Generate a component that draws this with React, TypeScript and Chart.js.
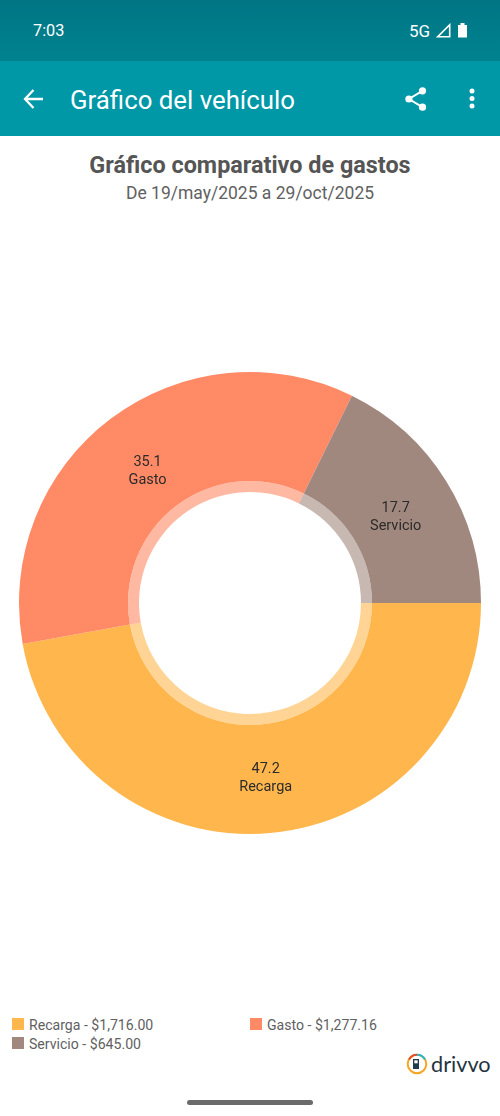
import React, { useEffect, useRef } from "react";
import { Chart, registerables } from "chart.js";

Chart.register(...registerables);

const categories = ["Recarga", "Gasto", "Servicio"];
const amounts = [1716.0, 1277.16, 645.0];
const amountLabels = ["$1,716.00", "$1,277.16", "$645.00"];
const percentLabels = ["47.2", "35.1", "17.7"];
const colors = ["#FFB74D", "#FF8A65", "#A1887F"];
const ringColors = ["rgba(255,183,77,0.6)", "rgba(255,138,101,0.6)", "rgba(161,136,127,0.6)"];

const FONT = "Roboto, sans-serif";

const sliceLabels = {
  id: "sliceLabels",
  afterDatasetsDraw(chart: any) {
    const { ctx } = chart;
    const arcs = chart.getDatasetMeta(0).data;
    const rings = chart.getDatasetMeta(1).data;
    ctx.save();
    ctx.font = `14.5px ${FONT}`;
    ctx.fillStyle = "#2b2b2b";
    ctx.textAlign = "center";
    ctx.textBaseline = "middle";
    arcs.forEach((arc: any, i: number) => {
      const mid = (arc.startAngle + arc.endAngle) / 2;
      const r = (rings[i].innerRadius + arc.outerRadius) / 2;
      const x = arc.x + Math.cos(mid) * r + 0.5;
      const y = arc.y + Math.sin(mid) * r + 5;
      ctx.fillText(percentLabels[i], x, y - 9);
      ctx.fillText(categories[i], x, y + 9);
    });
    ctx.restore();
  },
};

const abs = (left: number, top: number, extra: React.CSSProperties = {}): React.CSSProperties => ({
  position: "absolute",
  left,
  top,
  whiteSpace: "nowrap",
  ...extra,
});

function LegendItem({ i, left, top }: { i: number; left: number; top: number }) {
  return (
    <>
      <div style={abs(left, top + 2, { width: 12, height: 12, background: colors[i] })} />
      <div style={abs(left + 17, top + 1, { fontSize: 14.1, lineHeight: "17px", color: "#616161" })}>
        {categories[i]} - {amountLabels[i]}
      </div>
    </>
  );
}

export default function App() {
  const ref = useRef<HTMLCanvasElement>(null);
  useEffect(() => {
    const chart = new Chart(ref.current!, {
      type: "doughnut",
      data: {
        labels: categories,
        datasets: [
          { data: amounts, backgroundColor: colors, borderWidth: 0, weight: 109 },
          { data: amounts, backgroundColor: ringColors, borderWidth: 0, weight: 11 },
        ],
      },
      options: {
        animation: false,
        responsive: false,
        rotation: 90,
        cutout: "48.05%",
        layout: { padding: 19 },
        plugins: { legend: { display: false }, tooltip: { enabled: false } },
      },
      plugins: [sliceLabels],
    } as any);
    return () => chart.destroy();
  }, []);

  return (
    <div style={{ position: "fixed", left: 0, top: 0, width: 500, height: 1116, background: "#fff", overflow: "hidden", fontFamily: FONT }}>
      <div style={abs(0, 0, { width: 500, height: 61, background: "linear-gradient(#007584, #00838F)" })} />
      <div style={abs(0, 61, { width: 500, height: 75, background: "#0097A7" })} />
      <div style={abs(33, 21, { fontSize: 16.3, lineHeight: "20px", color: "#fff" })}>7:03</div>
      <div style={abs(409, 21, { fontSize: 17, lineHeight: "20px", color: "#fff" })}>5G</div>
      <svg style={abs(436, 23)} width="15" height="15" viewBox="0 0 15 15">
        <path d="M13.7 1.8 V13.7 H1.8 Z" fill="none" stroke="#fff" strokeWidth="1.6" />
      </svg>
      <svg style={abs(457, 22)} width="11" height="16" viewBox="0 0 11 16">
        <path d="M1 3 H3.5 V1 H7.5 V3 H10 V15.5 H1 Z" fill="#fff" />
      </svg>
      <svg style={abs(22, 87)} width="24" height="24" viewBox="0 0 24 24">
        <path d="M21 12 H4 M11.5 3 L3 12 L11.5 21" fill="none" stroke="#fff" strokeWidth="2.3" />
      </svg>
      <div style={abs(70, 85, { fontSize: 25.8, lineHeight: "30px", color: "#fff" })}>Gráfico del vehículo</div>
      <svg style={abs(405, 87)} width="22" height="24" viewBox="0 0 22 24" fill="#fff">
        <circle cx="17.5" cy="3.8" r="3.6" />
        <circle cx="3.9" cy="12" r="3.6" />
        <circle cx="17.5" cy="20.2" r="3.6" />
        <path d="M17.5 3.8 L3.9 12 L17.5 20.2" fill="none" stroke="#fff" strokeWidth="2" />
      </svg>
      <svg style={abs(468, 88)} width="8" height="22" viewBox="0 0 8 22" fill="#fff">
        <circle cx="4" cy="3" r="2.5" />
        <circle cx="4" cy="10.5" r="2.5" />
        <circle cx="4" cy="18" r="2.5" />
      </svg>
      <div style={abs(0, 151, { width: 500, textAlign: "center", fontSize: 23.4, fontWeight: 700, lineHeight: "28px", color: "#555" })}>
        Gráfico comparativo de gastos
      </div>
      <div style={abs(0, 182, { width: 500, textAlign: "center", fontSize: 17.5, lineHeight: "22px", color: "#616161" })}>
        De 19/may/2025 a 29/oct/2025
      </div>
      <canvas ref={ref} width={500} height={500} style={{ position: "absolute", left: 0, top: 352.5, width: 500, height: 500 }} />
      <LegendItem i={0} left={12} top={1016} />
      <LegendItem i={1} left={250} top={1016} />
      <LegendItem i={2} left={12} top={1035} />
      <svg style={abs(406, 1053)} width="22" height="22" viewBox="0 0 22 22">
        <circle cx="11" cy="11" r="9.3" fill="none" stroke="#F5A623" strokeWidth="2" />
        <path d="M3 6.5 A9.3 9.3 0 0 1 11 1.7" fill="none" stroke="#E5502A" strokeWidth="2" />
        <path d="M11 1.7 A9.3 9.3 0 0 1 19 6.5" fill="none" stroke="#29B6C6" strokeWidth="2" />
        <path d="M7 6 H13 V16 H7 Z" fill="#1F3B4D" />
        <rect x="8.3" y="7.3" width="3.4" height="3" fill="#fff" />
      </svg>
      <div style={abs(431, 1052, { fontSize: 21.7, lineHeight: "24px", fontFamily: "Lato, sans-serif", fontWeight: 400, color: "#1F3440" })}>drivvo</div>
      <div style={abs(187, 1099.5, { width: 126, height: 5, borderRadius: 3, background: "#6b6b6b" })} />
    </div>
  );
}
